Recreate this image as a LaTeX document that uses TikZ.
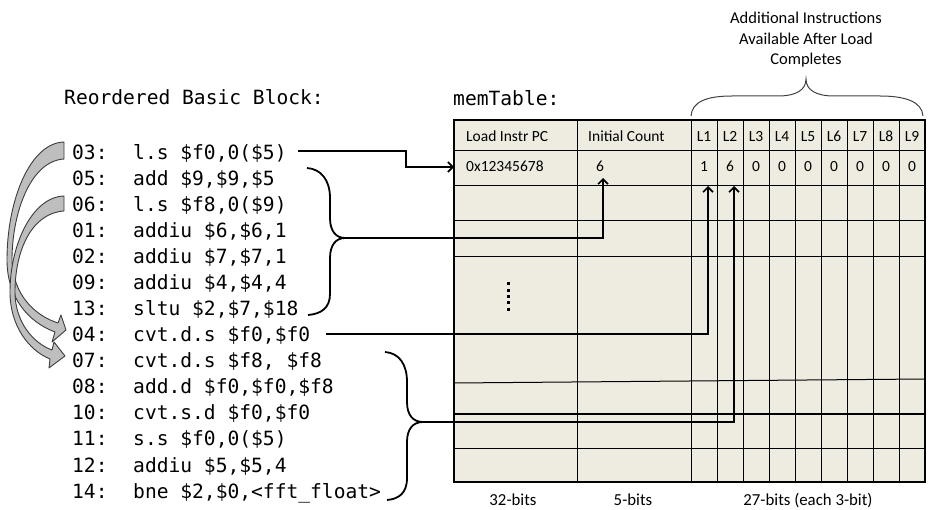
\documentclass[tikz,border=0pt]{standalone}
\usepackage{fontspec}
\setmainfont{Carlito}
\newfontfamily\codefont{DejaVu Sans Mono}
\usetikzlibrary{arrows.meta,calc}
\definecolor{tablebg}{HTML}{EEECE1}
\definecolor{bandfill}{HTML}{BEBEBE}
\definecolor{bandline}{HTML}{3C3C3C}
\definecolor{bracegray}{HTML}{404040}
\begin{document}
\begin{tikzpicture}[x=1pt,y=-1pt,
  code/.style={anchor=base west, inner sep=0pt, font=\codefont\fontsize{19.6}{20}\selectfont},
  cellw/.style={anchor=base west, inner sep=0pt, font=\fontsize{15.5}{16}\selectfont},
  cellc/.style={anchor=base, inner sep=0pt, font=\fontsize{15.5}{16}\selectfont},
  botlab/.style={anchor=base, inner sep=0pt, font=\fontsize{16.8}{17}\selectfont},
  toplab/.style={anchor=base, inner sep=0pt, font=\fontsize{16.5}{17}\selectfont},
  gridline/.style={line width=1pt, black},
  conn/.style={line width=1.7pt, black},
  arr/.style={conn, -{Straight Barb[length=5pt,width=10pt,line width=1.6pt]}},
  brace/.style={line width=1.8pt, black},
  bandarrow/.style={fill=bandfill, draw=bandline, line width=0.9pt, line join=round},
]
\useasboundingbox (0,0) rectangle (929,510);

% ---------- table ----------
\node[fill=tablebg, minimum width=471pt, minimum height=362pt, anchor=north west, inner sep=0pt, outer sep=0pt] (tbl) at (454,120) {};
\foreach \y in {151,186,221,257,414,448} \draw[gridline] (454,\y) -- (925,\y);
\draw[gridline] (454,383) -- (925,379);
\foreach \x in {577,691,717,743,...,899} \draw[gridline] (\x,120) -- (\x,482);
\draw[line width=2.7pt] (tbl.north west) rectangle (tbl.south east);

% header
\node[cellw] (hpc) at (466,141.5) {Load Instr PC};
\node[cellw] (hic) at (588,141.5) {Initial Count};
\foreach \i in {1,...,9} \node[cellc] (hL\i) at ({678+26*\i},141.5) {L\i};
% row 1
\node[cellw] (vpc) at (466,171.5) {0x12345678};
\node[cellc] (vic) at (600,171.5) {6};
\foreach \i/\v in {1/1,2/6,3/0,4/0,5/0,6/0,7/0,8/0,9/0} \node[cellc] (vL\i) at ({678+26*\i},171.5) {\v};
% vertical ellipsis
\draw[line width=3pt, dash pattern=on 3pt off 3.3pt] (508,282.5) -- (508,313);

% bottom labels
\node[botlab] (b32) at (513,505) {32-bits};
\node[botlab] (b5) at (633,505) {5-bits};
\node[botlab] (b27) at (808,505) {27-bits (each 3-bit)};

% top annotation
\node[toplab] (top1) at (806,24) {Additional Instructions};
\node[toplab] (top2) at (806,44.5) {Available After Load};
\node[toplab] (top3) at (806,65) {Completes};
\draw[line width=1pt, bracegray] (691,116) .. controls (692,102) and (706,96) .. (732,96) -- (778,96)
  .. controls (796,96) and (806,90) .. (806,79)
  .. controls (806,90) and (816,96) .. (834,96) -- (880,96)
  .. controls (906,96) and (922,102) .. (923,116);

% ---------- titles ----------
\node[code] (title1) at (64,105) {Reordered Basic Block:};
\node[code] (title2) at (453,106) {memTable:};

% ---------- code ----------
\node[code] (n03) at (72,160) {03:}; \node[code] (i03) at (133,160) {l.s \$f0,0(\$5)};
\node[code] (n05) at (72,186) {05:}; \node[code] (i05) at (133,186) {add \$9,\$9,\$5};
\node[code] (n06) at (72,212) {06:}; \node[code] (i06) at (133,212) {l.s \$f8,0(\$9)};
\node[code] (n01) at (72,238) {01:}; \node[code] (i01) at (133,238) {addiu \$6,\$6,1};
\node[code] (n02) at (72,264) {02:}; \node[code] (i02) at (133,264) {addiu \$7,\$7,1};
\node[code] (n09) at (72,290) {09:}; \node[code] (i09) at (133,290) {addiu \$4,\$4,4};
\node[code] (n13) at (72,316) {13:}; \node[code] (i13) at (133,316) {sltu \$2,\$7,\$18};
\node[code] (n04) at (72,342) {04:}; \node[code] (i04) at (133,342) {cvt.d.s \$f0,\$f0};
\node[code] (n07) at (72,368) {07:}; \node[code] (i07) at (133,368) {cvt.d.s \$f8, \$f8};
\node[code] (n08) at (72,394) {08:}; \node[code] (i08) at (133,394) {add.d \$f0,\$f0,\$f8};
\node[code] (n10) at (72,420) {10:}; \node[code] (i10) at (133,420) {cvt.s.d \$f0,\$f0};
\node[code] (n11) at (72,446) {11:}; \node[code] (i11) at (133,446) {s.s \$f0,0(\$5)};
\node[code] (n12) at (72,472) {12:}; \node[code] (i12) at (133,472) {addiu \$5,\$5,4};
\node[code] (n14) at (72,498) {14:}; \node[code] (i14) at (133,498) {bne \$2,\$0,<fft\_float>};

% ---------- braces ----------
\draw[brace] (307,168) .. controls (321,169) and (330,180) .. (330,198) -- (330,218)
  .. controls (330,231) and (336,238) .. (345,238)
  .. controls (336,238) and (330,245) .. (330,258) -- (330,294)
  .. controls (330,308) and (321,314) .. (308,315);
\coordinate (b1) at (345,238);
\draw[brace] (385,352) .. controls (399,353) and (407,364) .. (407,382) -- (407,402)
  .. controls (407,415) and (413,422) .. (423,422)
  .. controls (413,422) and (407,429) .. (407,442) -- (407,478)
  .. controls (407,493) and (399,499) .. (387,500);
\coordinate (b2) at (423,422);

% ---------- connectors ----------
\coordinate (s03) at (298,151);
\coordinate (t03) at (454,167);
\draw[arr] (s03) -- ++(108,0) |- (t03);
\coordinate (tIC) at (603,178);
\draw[arr] (b1) -| (tIC);
\coordinate (s04) at (326,334);
\coordinate (tL1) at (708,186);
\draw[arr] (s04) -| (tL1);
\coordinate (tL2) at (734,186);
\draw[arr] (b2) -| (tL2);

% ---------- curved block arrows ----------
\draw[bandarrow] (64,142) .. controls (30,143) and (7,200) .. (7,260)
  .. controls (7,297) and (28,322) .. (55,332) -- (52,342) -- (66,330) -- (61,315) -- (58,323)
  .. controls (36,316) and (13,296) .. (12,260)
  .. controls (12,214) and (30,161) .. (64,159) -- cycle;
\draw[bandarrow] (64,196) .. controls (32,197) and (10,245) .. (10,292)
  .. controls (10,325) and (28,350) .. (50,359) -- (49,368) -- (65,356) -- (54,342) -- (52,350)
  .. controls (33,343) and (15,322) .. (15,292)
  .. controls (15,250) and (32,213) .. (64,211) -- cycle;
\end{tikzpicture}
\end{document}
